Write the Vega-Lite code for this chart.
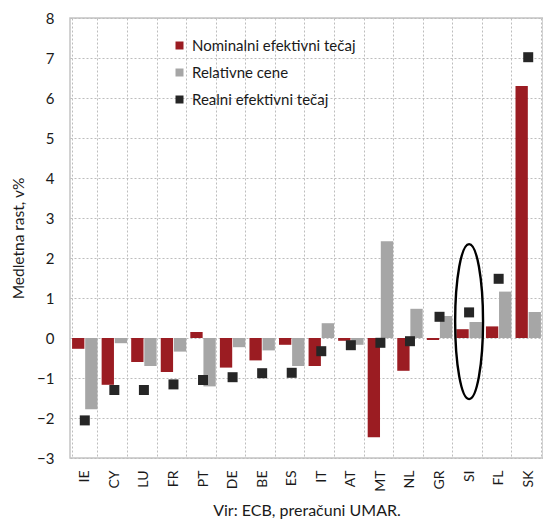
{
  "$schema": "https://vega.github.io/schema/vega-lite/v6.json",
  "width": 473,
  "height": 440,
  "autosize": {"type": "none"},
  "padding": {"left": 70, "top": 18, "right": 0, "bottom": 63},
  "config": {
    "font": "Lato",
    "view": {"stroke": "#C4C4C4", "strokeWidth": 1.5},
    "axis": {
      "labelColor": "#1a1a1a",
      "titleColor": "#1a1a1a",
      "gridColor": "#BDBDBD",
      "gridDash": [2, 2],
      "gridWidth": 1,
      "ticks": false,
      "domain": false,
      "titleFontWeight": "normal"
    },
    "legend": {
      "orient": "none",
      "legendX": 102,
      "legendY": 20,
      "symbolType": "square",
      "symbolSize": 64,
      "symbolStrokeWidth": 0,
      "labelFontSize": 15,
      "labelLimit": 400,
      "labelColor": "#1a1a1a",
      "labelOffset": 5,
      "rowPadding": 11,
      "padding": 0
    }
  },
  "datasets": {
    "rates": [
      {"country": "IE", "series": "Nominalni efektivni tečaj", "value": -0.27},
      {"country": "IE", "series": "Relativne cene", "value": -1.78},
      {"country": "IE", "series": "Realni efektivni tečaj", "value": -2.06},
      {"country": "CY", "series": "Nominalni efektivni tečaj", "value": -1.17},
      {"country": "CY", "series": "Relativne cene", "value": -0.13},
      {"country": "CY", "series": "Realni efektivni tečaj", "value": -1.3},
      {"country": "LU", "series": "Nominalni efektivni tečaj", "value": -0.6},
      {"country": "LU", "series": "Relativne cene", "value": -0.7},
      {"country": "LU", "series": "Realni efektivni tečaj", "value": -1.3},
      {"country": "FR", "series": "Nominalni efektivni tečaj", "value": -0.85},
      {"country": "FR", "series": "Relativne cene", "value": -0.34},
      {"country": "FR", "series": "Realni efektivni tečaj", "value": -1.16},
      {"country": "PT", "series": "Nominalni efektivni tečaj", "value": 0.15},
      {"country": "PT", "series": "Relativne cene", "value": -1.21},
      {"country": "PT", "series": "Realni efektivni tečaj", "value": -1.05},
      {"country": "DE", "series": "Nominalni efektivni tečaj", "value": -0.74},
      {"country": "DE", "series": "Relativne cene", "value": -0.23},
      {"country": "DE", "series": "Realni efektivni tečaj", "value": -0.98},
      {"country": "BE", "series": "Nominalni efektivni tečaj", "value": -0.56},
      {"country": "BE", "series": "Relativne cene", "value": -0.31},
      {"country": "BE", "series": "Realni efektivni tečaj", "value": -0.88},
      {"country": "ES", "series": "Nominalni efektivni tečaj", "value": -0.17},
      {"country": "ES", "series": "Relativne cene", "value": -0.7},
      {"country": "ES", "series": "Realni efektivni tečaj", "value": -0.87},
      {"country": "IT", "series": "Nominalni efektivni tečaj", "value": -0.7},
      {"country": "IT", "series": "Relativne cene", "value": 0.37},
      {"country": "IT", "series": "Realni efektivni tečaj", "value": -0.33},
      {"country": "AT", "series": "Nominalni efektivni tečaj", "value": -0.07},
      {"country": "AT", "series": "Relativne cene", "value": -0.17},
      {"country": "AT", "series": "Realni efektivni tečaj", "value": -0.18},
      {"country": "MT", "series": "Nominalni efektivni tečaj", "value": -2.48},
      {"country": "MT", "series": "Relativne cene", "value": 2.42},
      {"country": "MT", "series": "Realni efektivni tečaj", "value": -0.12},
      {"country": "NL", "series": "Nominalni efektivni tečaj", "value": -0.82},
      {"country": "NL", "series": "Relativne cene", "value": 0.73},
      {"country": "NL", "series": "Realni efektivni tečaj", "value": -0.08},
      {"country": "GR", "series": "Nominalni efektivni tečaj", "value": -0.05},
      {"country": "GR", "series": "Relativne cene", "value": 0.55},
      {"country": "GR", "series": "Realni efektivni tečaj", "value": 0.53},
      {"country": "SI", "series": "Nominalni efektivni tečaj", "value": 0.22},
      {"country": "SI", "series": "Relativne cene", "value": 0.4},
      {"country": "SI", "series": "Realni efektivni tečaj", "value": 0.64},
      {"country": "FL", "series": "Nominalni efektivni tečaj", "value": 0.29},
      {"country": "FL", "series": "Relativne cene", "value": 1.16},
      {"country": "FL", "series": "Realni efektivni tečaj", "value": 1.48},
      {"country": "SK", "series": "Nominalni efektivni tečaj", "value": 6.3},
      {"country": "SK", "series": "Relativne cene", "value": 0.65},
      {"country": "SK", "series": "Realni efektivni tečaj", "value": 7.02}
    ],
    "highlight": [
      {"country": "SI", "value": 0.41}
    ]
  },
  "encoding": {
    "x": {
      "field": "country",
      "type": "nominal",
      "sort": null,
      "scale": {"domain": ["IE", "CY", "LU", "FR", "PT", "DE", "BE", "ES", "IT", "AT", "MT", "NL", "GR", "SI", "FL", "SK"], "paddingInner": 0.14, "paddingOuter": 0.07},
      "axis": {
        "title": "Vir: ECB, preračuni UMAR.",
        "titleFontSize": 16,
        "titlePadding": 11,
        "labelAngle": -90,
        "labelFontSize": 14,
        "labelPadding": 12,
        "grid": true,
        "tickBand": "extent"
      }
    },
    "y": {
      "field": "value",
      "type": "quantitative",
      "scale": {"domain": [-3, 8], "nice": false},
      "axis": {
        "title": "Medletna rast, v%",
        "titleFontSize": 15.5,
        "titlePadding": 10,
        "labelFontSize": 15,
        "labelPadding": 16,
        "values": [-3, -2, -1, 0, 1, 2, 3, 4, 5, 6, 7, 8],
        "grid": true
      }
    }
  },
  "layer": [
    {
      "data": {"name": "rates"},
      "transform": [{"filter": "datum.series !== 'Realni efektivni tečaj'"}],
      "mark": {"type": "bar"},
      "encoding": {
        "xOffset": {
          "field": "series",
          "type": "nominal",
          "scale": {"domain": ["Nominalni efektivni tečaj", "Relativne cene"], "paddingInner": 0.06}
        },
        "color": {
          "field": "series",
          "type": "nominal",
          "scale": {
            "domain": ["Nominalni efektivni tečaj", "Relativne cene", "Realni efektivni tečaj"],
            "range": ["#9B1C22", "#A6A6A6", "#262626"]
          },
          "legend": {"title": null}
        }
      }
    },
    {
      "mark": {"type": "rule", "color": "#BFBFBF", "strokeWidth": 2.2},
      "encoding": {
        "x": {"value": 0},
        "x2": {"value": 473},
        "y": {"datum": 0}
      }
    },
    {
      "data": {"name": "rates"},
      "transform": [{"filter": "datum.series === 'Realni efektivni tečaj'"}],
      "mark": {"type": "point", "shape": "square", "filled": true, "size": 100, "opacity": 1},
      "encoding": {
        "color": {"field": "series", "type": "nominal"}
      }
    },
    {
      "data": {"name": "highlight"},
      "mark": {
        "type": "point",
        "shape": "M0,-1A0.18,1 0 1,1 0,1A0.18,1 0 1,1 0,-1Z",
        "filled": false,
        "size": 24025,
        "stroke": "#000000",
        "strokeWidth": 2.4,
        "opacity": 1
      },
      "encoding": {}
    }
  ]
}
